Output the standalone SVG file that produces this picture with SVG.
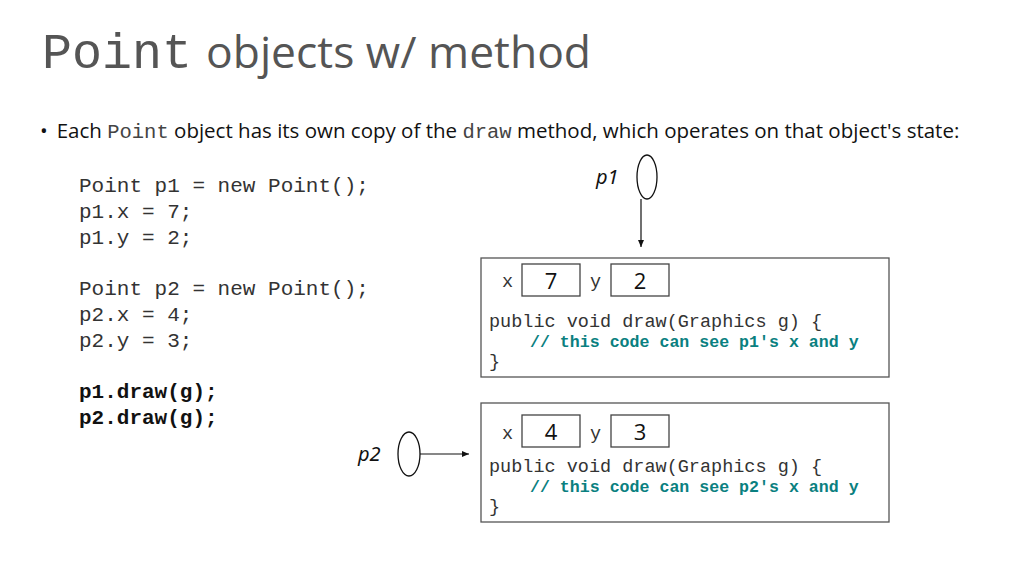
<svg xmlns="http://www.w3.org/2000/svg" width="1024" height="576" viewBox="0 0 1024 576">
<defs>
<style>
.m{font-family:"Liberation Mono","DejaVu Sans Mono",monospace}
.s{font-family:"Open Sans","Noto Sans",sans-serif}
.code{font-size:21px;fill:#333}
.bc{font-size:18.5px;fill:#333}
.cm{font-size:16.6px;fill:#0a8080;font-weight:bold}
.box{fill:#fff;stroke:#555;stroke-width:1.3}
.cell{fill:#fff;stroke:#444;stroke-width:1.3}
.num{font-family:"Open Sans","Noto Sans",sans-serif;font-size:22px;text-anchor:middle;fill:#111}
.var{font-family:"Noto Sans",sans-serif;font-style:italic;font-size:20px;fill:#111}
.ln{stroke:#111;stroke-width:1.2;fill:none}
</style>
<marker id="ah" markerWidth="8" markerHeight="8" refX="7" refY="4" orient="auto" markerUnits="userSpaceOnUse"><path d="M0,1 L7,4 L0,7 z" fill="#111"/></marker>
</defs>
<rect width="1024" height="576" fill="#fff"/>
<text x="42" y="68" fill="#555"><tspan class="m" font-size="50">Point</tspan><tspan class="s" font-size="44" dx="14" textLength="385" lengthAdjust="spacingAndGlyphs">objects w/ method</tspan></text>
<text x="40" y="138" class="s" font-size="20.5" fill="#111">•<tspan dx="9">Each </tspan><tspan class="m" fill="#444">Point</tspan> object has its own copy of the <tspan class="m" fill="#444">draw</tspan> method, which operates on that object's state:</text>
<g class="m code">
<text x="79" y="192">Point p1 = new Point();</text>
<text x="79" y="218">p1.x = 7;</text>
<text x="79" y="244">p1.y = 2;</text>
<text x="79" y="295">Point p2 = new Point();</text>
<text x="79" y="321">p2.x = 4;</text>
<text x="79" y="347">p2.y = 3;</text>
<text x="79" y="398" font-weight="bold" fill="#111">p1.draw(g);</text>
<text x="79" y="424" font-weight="bold" fill="#111">p2.draw(g);</text>
</g>
<g id="p1">
<text x="596" y="184" class="var">p1</text>
<ellipse cx="647" cy="177" rx="10" ry="22" fill="none" stroke="#111" stroke-width="1.3"/>
</g>
<g id="p2">
<text x="358" y="461" class="var">p2</text>
<ellipse cx="409" cy="454" rx="11" ry="22" fill="none" stroke="#111" stroke-width="1.3"/>
</g>
<g id="obj1">
<rect x="481" y="258" width="408" height="119" class="box"/>
<text x="502" y="287" class="m bc">x</text>
<rect x="522" y="264" width="58" height="32" class="cell"/>
<text x="551" y="289" class="num">7</text>
<text x="590" y="287" class="m bc">y</text>
<rect x="611" y="264" width="58" height="32" class="cell"/>
<text x="640" y="289" class="num">2</text>
<text x="489" y="327" class="m bc">public void draw(Graphics g) {</text>
<text x="530" y="347" class="m cm">// this code can see p1's x and y</text>
<text x="489" y="367" class="m bc">}</text>
</g>
<g id="obj2">
<rect x="481" y="403" width="408" height="119" class="box"/>
<text x="502" y="439" class="m bc">x</text>
<rect x="522" y="415" width="58" height="32" class="cell"/>
<text x="551" y="440" class="num">4</text>
<text x="590" y="439" class="m bc">y</text>
<rect x="611" y="415" width="58" height="32" class="cell"/>
<text x="640" y="440" class="num">3</text>
<text x="489" y="472" class="m bc">public void draw(Graphics g) {</text>
<text x="530" y="492" class="m cm">// this code can see p2's x and y</text>
<text x="489" y="512" class="m bc">}</text>
</g>
<g id="connectors">
<line x1="641" y1="199" x2="641" y2="247" class="ln" marker-end="url(#ah)"/>
<line x1="420" y1="454" x2="469" y2="454" class="ln" marker-end="url(#ah)"/>
</g>
</svg>
